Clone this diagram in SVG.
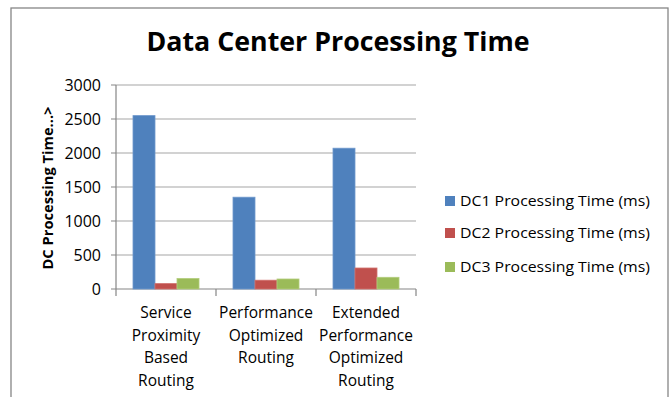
<svg xmlns="http://www.w3.org/2000/svg" width="670" height="397" viewBox="0 0 670 397">
<style>
.t{font-family:"Open Sans","Liberation Sans",sans-serif;fill:#000}
.tick{font-size:16px;text-anchor:end}
.cat{font-size:15.5px;text-anchor:middle}
.leg{font-size:15px}
.grid{stroke:#a6a6a6;stroke-width:1.2}
.axis{stroke:#868686;stroke-width:1.2;fill:none}
.b1{fill:#4f81bd;stroke:#6f98cc;stroke-width:0.8}
.b2{fill:#c0504d;stroke:#d0706d;stroke-width:0.8}
.b3{fill:#9bbb59;stroke:#b2cc7c;stroke-width:0.8}
</style>
<rect x="0" y="0" width="670" height="397" fill="#fff"/>
<rect x="11" y="8" width="657" height="400" fill="#fff" stroke="#868686" stroke-width="1.3"/>
<g id="title"><text class="t" x="338" y="51" font-size="27" font-weight="bold" text-anchor="middle" textLength="383" lengthAdjust="spacingAndGlyphs">Data Center Processing Time</text></g>
<g id="gridlines">
<line class="grid" x1="116" y1="85" x2="416" y2="85"/>
<line class="grid" x1="116" y1="119" x2="416" y2="119"/>
<line class="grid" x1="116" y1="153" x2="416" y2="153"/>
<line class="grid" x1="116" y1="187" x2="416" y2="187"/>
<line class="grid" x1="116" y1="221" x2="416" y2="221"/>
<line class="grid" x1="116" y1="255" x2="416" y2="255"/>
</g>
<g id="axes">
<path class="axis" d="M116 85V289M111 85H116M111 119H116M111 153H116M111 187H116M111 221H116M111 255H116M111 289H116"/>
<path class="axis" d="M116 289H416M116 289V296M216 289V296M316 289V296M416 289V296"/>
</g>
<g id="ticks">
<text class="t tick" x="101" y="91">3000</text>
<text class="t tick" x="101" y="125">2500</text>
<text class="t tick" x="101" y="159">2000</text>
<text class="t tick" x="101" y="193">1500</text>
<text class="t tick" x="101" y="227">1000</text>
<text class="t tick" x="101" y="261">500</text>
<text class="t tick" x="101" y="295">0</text>
</g>
<g id="yaxis-title"><text class="t" transform="translate(53,188) rotate(-90)" font-size="15" font-weight="bold" text-anchor="middle" textLength="163" lengthAdjust="spacingAndGlyphs">DC Processing Time...&gt;</text></g>
<g id="bars">
<rect class="b1" x="133" y="115.6" width="22" height="173.4"/>
<rect class="b2" x="155" y="283.6" width="22" height="5.4"/>
<rect class="b3" x="177" y="278.5" width="22" height="10.5"/>
<rect class="b1" x="233" y="197.2" width="22" height="91.8"/>
<rect class="b2" x="255" y="280.2" width="22" height="8.8"/>
<rect class="b3" x="277" y="279" width="22" height="10"/>
<rect class="b1" x="333" y="148.2" width="22" height="140.8"/>
<rect class="b2" x="355" y="268" width="22" height="21"/>
<rect class="b3" x="377" y="277.3" width="22" height="11.7"/>
</g>
<g id="categories">
<text class="t cat" x="166" y="318">Service</text>
<text class="t cat" x="166" y="341">Proximity</text>
<text class="t cat" x="166" y="363">Based</text>
<text class="t cat" x="166" y="386">Routing</text>
<text class="t cat" x="266" y="318">Performance</text>
<text class="t cat" x="266" y="341">Optimized</text>
<text class="t cat" x="266" y="363">Routing</text>
<text class="t cat" x="366" y="318">Extended</text>
<text class="t cat" x="366" y="341">Performance</text>
<text class="t cat" x="366" y="363">Optimized</text>
<text class="t cat" x="366" y="386">Routing</text>
</g>
<g id="legend">
<rect x="445" y="196" width="10" height="10" fill="#4f81bd"/>
<text class="t leg" x="460" y="206" textLength="190" lengthAdjust="spacingAndGlyphs">DC1 Processing Time (ms)</text>
<rect x="445" y="228" width="10" height="10" fill="#c0504d"/>
<text class="t leg" x="460" y="238" textLength="190" lengthAdjust="spacingAndGlyphs">DC2 Processing Time (ms)</text>
<rect x="445" y="262" width="10" height="10" fill="#9bbb59"/>
<text class="t leg" x="460" y="272" textLength="190" lengthAdjust="spacingAndGlyphs">DC3 Processing Time (ms)</text>
</g>
</svg>
